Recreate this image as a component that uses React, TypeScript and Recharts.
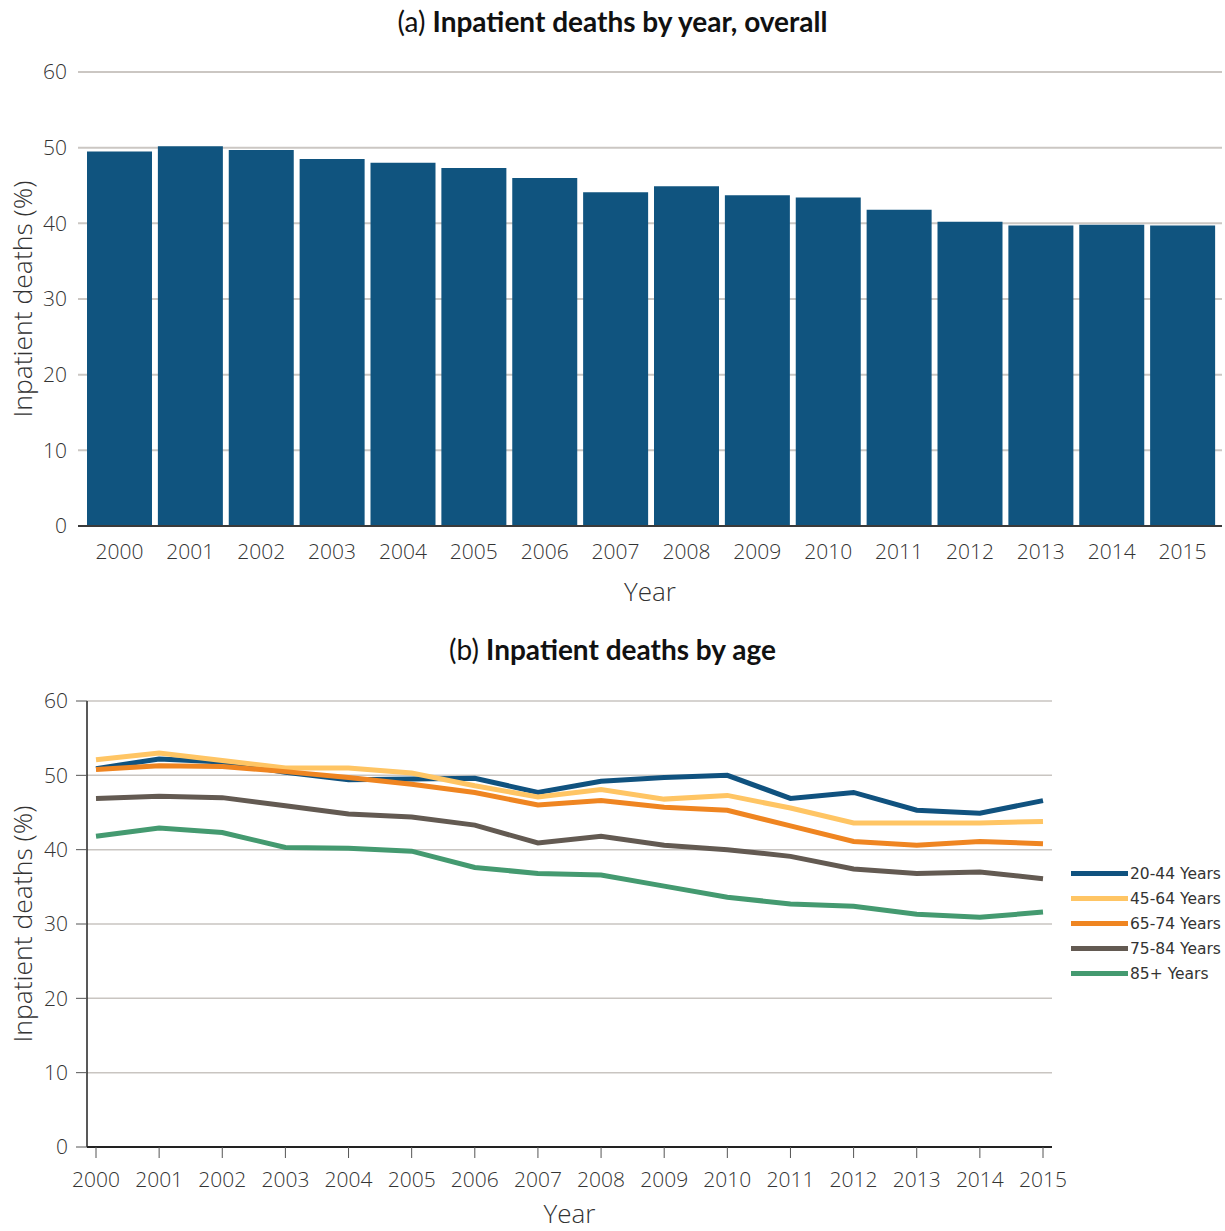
import {
  BarChart,
  Bar,
  LineChart,
  Line,
  CartesianGrid,
  XAxis,
  YAxis,
  Legend,
} from 'recharts';

const years = ['2000', '2001', '2002', '2003', '2004', '2005', '2006', '2007', '2008', '2009', '2010', '2011', '2012', '2013', '2014', '2015'];

// overall share of deaths in hospital, %
const overall = [49.5, 50.2, 49.7, 48.5, 48.0, 47.3, 46.0, 44.1, 44.9, 43.7, 43.4, 41.8, 40.2, 39.7, 39.8, 39.7];

// by age group, %
const age20to44 = [50.9, 52.2, 51.8, 50.4, 49.4, 49.5, 49.6, 47.7, 49.2, 49.7, 50.0, 46.9, 47.7, 45.3, 44.9, 46.6];
const age45to64 = [52.1, 53.0, 52.0, 51.0, 51.0, 50.3, 48.6, 47.1, 48.1, 46.8, 47.3, 45.6, 43.6, 43.6, 43.6, 43.8];
const age65to74 = [50.8, 51.3, 51.2, 50.5, 49.7, 48.8, 47.7, 46.0, 46.6, 45.7, 45.3, 43.2, 41.1, 40.6, 41.1, 40.8];
const age75to84 = [46.9, 47.2, 47.0, 45.9, 44.8, 44.4, 43.3, 40.9, 41.8, 40.6, 40.0, 39.1, 37.4, 36.8, 37.0, 36.1];
const age85plus = [41.8, 42.9, 42.3, 40.3, 40.2, 39.8, 37.6, 36.8, 36.6, 35.1, 33.6, 32.7, 32.4, 31.3, 30.9, 31.6];

const yTicks = [0, 10, 20, 30, 40, 50, 60];

const series = [
  { key: 'a20', name: '20-44 Years', color: '#10527f', values: age20to44 },
  { key: 'a45', name: '45-64 Years', color: '#ffc564', values: age45to64 },
  { key: 'a65', name: '65-74 Years', color: '#ef8521', values: age65to74 },
  { key: 'a75', name: '75-84 Years', color: '#635a52', values: age75to84 },
  { key: 'a85', name: '85+ Years', color: '#449a70', values: age85plus },
];

const barData = years.map((year, i) => ({ year, overall: overall[i] }));

const lineData = years.map((year, i) => {
  const row: Record<string, string | number> = { year };
  series.forEach(s => {
    row[s.key] = s.values[i];
  });
  return row;
});

const tickFont = { fontFamily: '"Open Sans"', fontSize: 21, fill: '#333', fontWeight: 300 };
const titleFont = '"Open Sans"';

function SideTitle(props: any) {
  const vb = props.viewBox || {};
  const cy = (vb.y ?? 0) + (vb.height ?? 0) / 2;
  const cx = 22;
  return (
    <text
      x={cx}
      y={cy}
      transform={`rotate(-90, ${cx}, ${cy})`}
      textAnchor="middle"
      dominantBaseline="central"
      fontFamily={titleFont}
      fontSize={26.5}
      fontWeight={300}
      fill="#333"
    >
      Inpatient deaths (%)
    </text>
  );
}

function BottomTitle(props: any) {
  const vb = props.viewBox || {};
  const cx = (vb.x ?? 0) + (vb.width ?? 0) / 2;
  const cy = (vb.y ?? 0) + props.gap;
  return (
    <text
      x={cx}
      y={cy}
      textAnchor="middle"
      dominantBaseline="central"
      fontFamily={titleFont}
      fontSize={26}
      fontWeight={300}
      fill="#333"
    >
      Year
    </text>
  );
}

function AgeLegend() {
  return (
    <div style={{ fontFamily: '"DejaVu Sans"', fontSize: 15.5, color: '#333' }}>
      {series.map(s => (
        <div key={s.key} style={{ display: 'flex', alignItems: 'center', height: 25 }}>
          <div style={{ width: 57, height: 5, background: s.color, marginRight: 2 }} />
          <span>{s.name}</span>
        </div>
      ))}
    </div>
  );
}

function Heading({ tag, text, top }: { tag: string; text: string; top: number }) {
  return (
    <div
      style={{
        position: 'absolute',
        top,
        left: 0,
        width: 1225,
        textAlign: 'center',
        fontFamily: 'Lato',
        fontSize: 28,
        color: '#111',
        lineHeight: '34px',
      }}
    >
      <span>{tag} </span>
      <span style={{ fontWeight: 700 }}>{text}</span>
    </div>
  );
}

export default function App() {
  return (
    <div style={{ position: 'absolute', left: 0, top: 0, width: 1225, height: 1231, background: '#fff' }}>
      <Heading tag="(a)" text="Inpatient deaths by year, overall" top={4} />
      <div style={{ position: 'absolute', left: 0, top: 0 }}>
        <BarChart
          width={1225}
          height={620}
          data={barData}
          margin={{ top: 72, right: 3, bottom: 0, left: 0 }}
          barCategoryGap={3}
        >
          <CartesianGrid vertical={false} stroke="#cbc7c3" strokeWidth={2} />
          <XAxis
            dataKey="year"
            height={94}
            padding={{ left: 6, right: 4 }}
            tickLine={false}
            tickMargin={12}
            axisLine={{ stroke: '#3a3a3a', strokeWidth: 2 }}
            tick={tickFont}
            interval={0}
            label={<BottomTitle gap={65} />}
          />
          <YAxis
            width={78}
            domain={[0, 60]}
            ticks={yTicks}
            axisLine={false}
            tickLine={false}
            tickMargin={5}
            tick={tickFont}
            label={<SideTitle />}
          />
          <Bar dataKey="overall" fill="#10547f" isAnimationActive={false} />
        </BarChart>
      </div>

      <Heading tag="(b)" text="Inpatient deaths by age" top={632} />
      <div style={{ position: 'absolute', left: 0, top: 620 }}>
        <LineChart
          width={1225}
          height={611}
          data={lineData}
          margin={{ top: 81, right: 173, bottom: 0, left: 0 }}
        >
          <CartesianGrid vertical={false} stroke="#c9c5c1" strokeWidth={1.5} />
          <XAxis
            dataKey="year"
            height={84}
            padding={{ left: 9, right: 9 }}
            tickSize={11}
            tickMargin={14}
            tickLine={{ stroke: '#555', strokeWidth: 1 }}
            axisLine={{ stroke: '#222', strokeWidth: 2 }}
            tick={tickFont}
            interval={0}
            label={<BottomTitle gap={66} />}
          />
          <YAxis
            width={87}
            domain={[0, 60]}
            ticks={yTicks}
            tickSize={11}
            tickMargin={8}
            tickLine={{ stroke: '#555', strokeWidth: 1 }}
            axisLine={{ stroke: '#222', strokeWidth: 1.5 }}
            tick={tickFont}
            label={<SideTitle />}
          />
          <Legend
            layout="vertical"
            align="center"
            verticalAlign="middle"
            content={<AgeLegend />}
            wrapperStyle={{ left: 1071, top: 241, width: 160 }}
          />
          {series.map(s => (
            <Line
              key={s.key}
              type="linear"
              dataKey={s.key}
              name={s.name}
              stroke={s.color}
              strokeWidth={5}
              dot={false}
              activeDot={false}
              isAnimationActive={false}
            />
          ))}
        </LineChart>
      </div>
    </div>
  );
}
